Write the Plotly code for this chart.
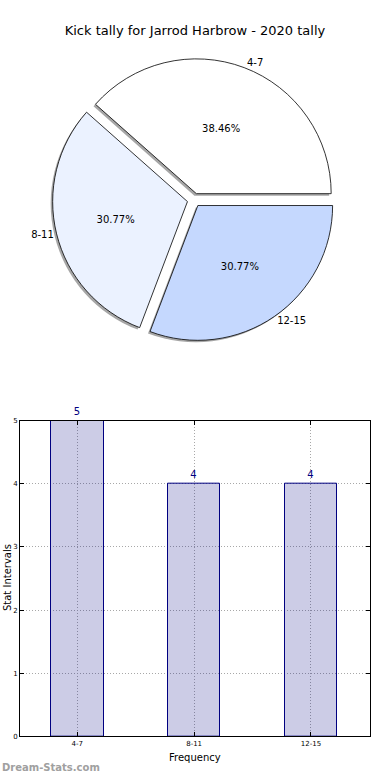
import plotly.graph_objects as go

categories = ["4-7", "8-11", "12-15"]
counts = [5, 4, 4]
pie_colors = ["#ffffff", "#ebf2ff", "#c5d8fe"]
y_ticks = [0, 1, 2, 3, 4, 5]

W, H = 390, 780
FONT = "DejaVu Sans"

def px_x(a, b):
    return [a / W, b / W]

def px_y(top, bottom):
    return [1 - bottom / H, 1 - top / H]

# plotly places the first slice clockwise of `rotation`, the rest counterclockwise;
# make the first slice start at 3 o'clock and run counterclockwise (matplotlib style)
first_share = counts[0] / sum(counts)
rotation = 90 - 360 * first_share

pie_dom_x = px_x(51, 337)
pie_dom_y = px_y(55, 341)
pull = [0.05, 0.05, 0.05]
shadow_dx, shadow_dy = -2, 2

fig = go.Figure()

common_pie = dict(labels=categories, values=counts, sort=False,
                  direction="counterclockwise", rotation=rotation, pull=pull)

# shadow
fig.add_trace(go.Pie(
    **common_pie,
    domain=dict(x=[pie_dom_x[0] + shadow_dx / W, pie_dom_x[1] + shadow_dx / W],
                y=[pie_dom_y[0] - shadow_dy / H, pie_dom_y[1] - shadow_dy / H]),
    marker=dict(colors=["rgba(77,77,77,0.5)"] * 3, line=dict(width=0)),
    textinfo="none", hoverinfo="skip", showlegend=False,
))
# main pie with percents inside
fig.add_trace(go.Pie(
    **common_pie,
    domain=dict(x=pie_dom_x, y=pie_dom_y),
    marker=dict(colors=pie_colors, line=dict(color="#000000", width=0.8)),
    texttemplate="%{percent:.2%}", textposition="inside",
    insidetextorientation="horizontal",
    textfont=dict(family=FONT, size=10, color="#000000"),
    showlegend=False,
))
# labels outside
fig.add_trace(go.Pie(
    **common_pie,
    domain=dict(x=pie_dom_x, y=pie_dom_y),
    marker=dict(colors=["rgba(0,0,0,0)"] * 3, line=dict(width=0)),
    texttemplate="%{label}", textposition="outside",
    textfont=dict(family=FONT, size=10, color="#000000"),
    hoverinfo="skip", showlegend=False,
))

# bar chart (translucent navy fill so the grid shows through, as in the reference)
fig.add_trace(go.Bar(
    x=categories, y=counts, width=0.45,
    marker=dict(color="rgba(0,0,128,0.2)", line=dict(color="#000080", width=1)),
    text=counts, textposition="outside", cliponaxis=False,
    textfont=dict(family=FONT, size=10, color="#000080"),
    showlegend=False,
))

axis_common = dict(
    showline=True, linecolor="#000000", linewidth=1, mirror="allticks",
    ticks="inside", ticklen=4, tickcolor="#000000",
    showgrid=True, gridcolor="#a8a8a8", griddash="1px,2px", gridwidth=1,
    zeroline=False, tickfont=dict(family=FONT, size=7, color="#000000"),
    layer="above traces",
)

fig.update_layout(
    width=W, height=H, margin=dict(l=0, r=0, t=0, b=0),
    paper_bgcolor="#ffffff", plot_bgcolor="#ffffff",
    font=dict(family=FONT, color="#000000"),
    title=dict(text="Kick tally for Jarrod Harbrow - 2020 tally", x=0.5, xanchor="center",
               y=1 - 30 / H, yanchor="middle", font=dict(family=FONT, size=13, color="#000000")),
    xaxis=dict(domain=px_x(20, 370), range=[-0.49, 2.505], **axis_common),
    yaxis=dict(domain=px_y(421, 740), range=[0, 5], tickvals=y_ticks, **axis_common),
    bargap=0,
)

fig.add_annotation(text="Frequency", xref="paper", yref="paper", x=195 / W, y=1 - 761 / H,
                   showarrow=False, font=dict(family=FONT, size=10, color="#000000"),
                   xanchor="center", yanchor="middle")
fig.add_annotation(text="Stat Intervals", xref="paper", yref="paper", x=7 / W, y=1 - 580 / H,
                   showarrow=False, textangle=-90, font=dict(family=FONT, size=10, color="#000000"),
                   xanchor="center", yanchor="middle")
fig.add_annotation(text="<b>Dream-Stats.com</b>", xref="paper", yref="paper", x=0, y=1 - 771 / H,
                   showarrow=False, font=dict(family=FONT, size=10, color="#a0a0a0"),
                   xanchor="left", yanchor="middle")

fig.write_html("out.html", config={"displayModeBar": False},
               post_script="document.body.style.margin='0';")
